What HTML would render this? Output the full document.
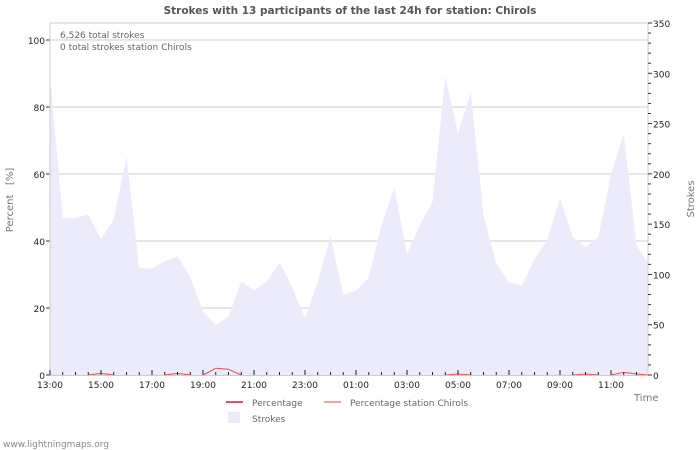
<!DOCTYPE html>
<html><head><meta charset="utf-8"><style>
body{margin:0;background:#fff;}
svg{display:block;font-family:"DejaVu Sans","Liberation Sans",sans-serif;}
</style></head><body>
<svg id="chart" width="700" height="450" viewBox="0 0 700 450">
<text x="350" y="14" text-anchor="middle" font-size="10.5" font-weight="bold" fill="#555">Strokes with 13 participants of the last 24h for station: Chirols</text>
<g id="grid"></g>
<g id="area"></g>
<g id="lines"></g>
<g id="axes"></g>
<text x="60" y="38" font-size="9" fill="#666">6,526 total strokes</text>
<text x="60" y="50" font-size="9" fill="#666">0 total strokes station Chirols</text>
<text transform="translate(13,200) rotate(-90)" text-anchor="middle" font-size="10" fill="#777" xml:space="preserve">Percent   [%]</text>
<text transform="translate(694,199) rotate(-90)" text-anchor="middle" font-size="10" fill="#777">Strokes</text>
<text x="634" y="401" font-size="10" fill="#777">Time</text>
<g>
<line x1="226" y1="402" x2="243" y2="402" stroke="#e05060" stroke-width="2"/>
<text x="252" y="406" font-size="9" fill="#666">Percentage</text>
<line x1="324" y1="402" x2="341" y2="402" stroke="#f4a0a0" stroke-width="2"/>
<text x="350" y="406" font-size="9" fill="#666">Percentage station Chirols</text>
<rect x="228" y="412" width="12" height="11" fill="#ebebfb"/>
<text x="252" y="422" font-size="9" fill="#666">Strokes</text>
</g>
<text x="3" y="447" font-size="9" fill="#888">www.lightningmaps.org</text>
</svg>
<script>
const strokes=[298,156,156,160,135,155,217,106,106,113,118,97,63,50,58,93,84,93,112,87,56,93,138,80,84,97,149,186,120,149,172,297,240,281,159,111,92,89,115,134,176,137,127,137,199,240,129,111];
const percent=[0,0,0,0,0.5,0,0,0,0,0,0.5,0,0,2,1.7,0,0,0,0,0,0,0,0,0,0,0,0,0,0,0,0,0,0.3,0,0,0,0,0,0,0,0,0,0.3,0,0,0.8,0.3,0];
const leftTicks=[0,20,40,60,80,100];
const rightTicks=[0,50,100,150,200,250,300,350];
const timeLabels=["13:00","15:00","17:00","19:00","21:00","23:00","01:00","03:00","05:00","07:00","09:00","11:00"];
const NS="http://www.w3.org/2000/svg";
const X0=50,X1=648,Y0=375,YT=23,STEP=12.75;
const xi=i=>X0+i*STEP;
const yP=v=>Y0-v*3.35;
const yS=v=>Y0-v*(352/350);
function mk(tag,attrs,parent){const e=document.createElementNS(NS,tag);for(const k in attrs)e.setAttribute(k,attrs[k]);document.getElementById(parent).appendChild(e);return e;}
leftTicks.forEach(t=>{if(t>0){const g=mk('line',{x1:X0,x2:X1,y1:yP(t),y2:yP(t),stroke:'#ccc','stroke-width':1},'grid');

}
const l=mk('text',{x:45,y:yP(t)+4,'text-anchor':'end','font-size':9,fill:'#222'},'axes');l.textContent=t;


mk('line',{x1:X0-4,x2:X0,y1:yP(t),y2:yP(t),stroke:'#333'},'axes');});
mk('line',{x1:X0,x2:X1,y1:YT,y2:YT,stroke:'#ccc'},'grid');
let d='M'+xi(0)+','+Y0;strokes.forEach((v,i)=>{d+=' L'+Math.min(xi(i),X1)+','+yS(v);});d+=' L'+Math.min(xi(strokes.length-1),X1)+','+Y0+' Z';
const a=mk('path',{d:d,fill:'#ebebfb'},'area');


for(let i=0;i<percent.length-1;i++){if(percent[i]>0||percent[i+1]>0){const s=mk('line',{x1:xi(i),y1:yP(percent[i]),x2:Math.min(xi(i+1),X1),y2:yP(percent[i+1]),stroke:'#e05060','stroke-width':1},'lines');

}}
mk('line',{x1:X0,x2:X0,y1:YT,y2:Y0,stroke:'#ccc'},'axes');
mk('line',{x1:X1,x2:X1,y1:YT,y2:Y0,stroke:'#ccc'},'axes');
mk('line',{x1:X0,x2:X1,y1:Y0+0.5,y2:Y0+0.5,stroke:'#ccc'},'axes');
for(let v=0;v<=350;v+=10){const big=v%50===0;mk('line',{x1:X1,x2:X1+(big?4:3),y1:yS(v),y2:yS(v),stroke:'#333'},'axes');}
rightTicks.forEach(t=>{const l=mk('text',{x:653,y:yS(t)+4,'font-size':9,fill:'#222'},'axes');l.textContent=t;

});
for(let i=0;i<strokes.length;i++){const x=xi(i);if(x>X1)break;const big=i%4===0;mk('line',{x1:x,x2:x,y1:Y0-(big?5:3),y2:Y0,stroke:'#222'},'axes');}
timeLabels.forEach((t,k)=>{const l=mk('text',{x:xi(k*4),y:388,'text-anchor':'middle','font-size':9,fill:'#222'},'axes');l.textContent=t;

});
</script>
</body></html>
